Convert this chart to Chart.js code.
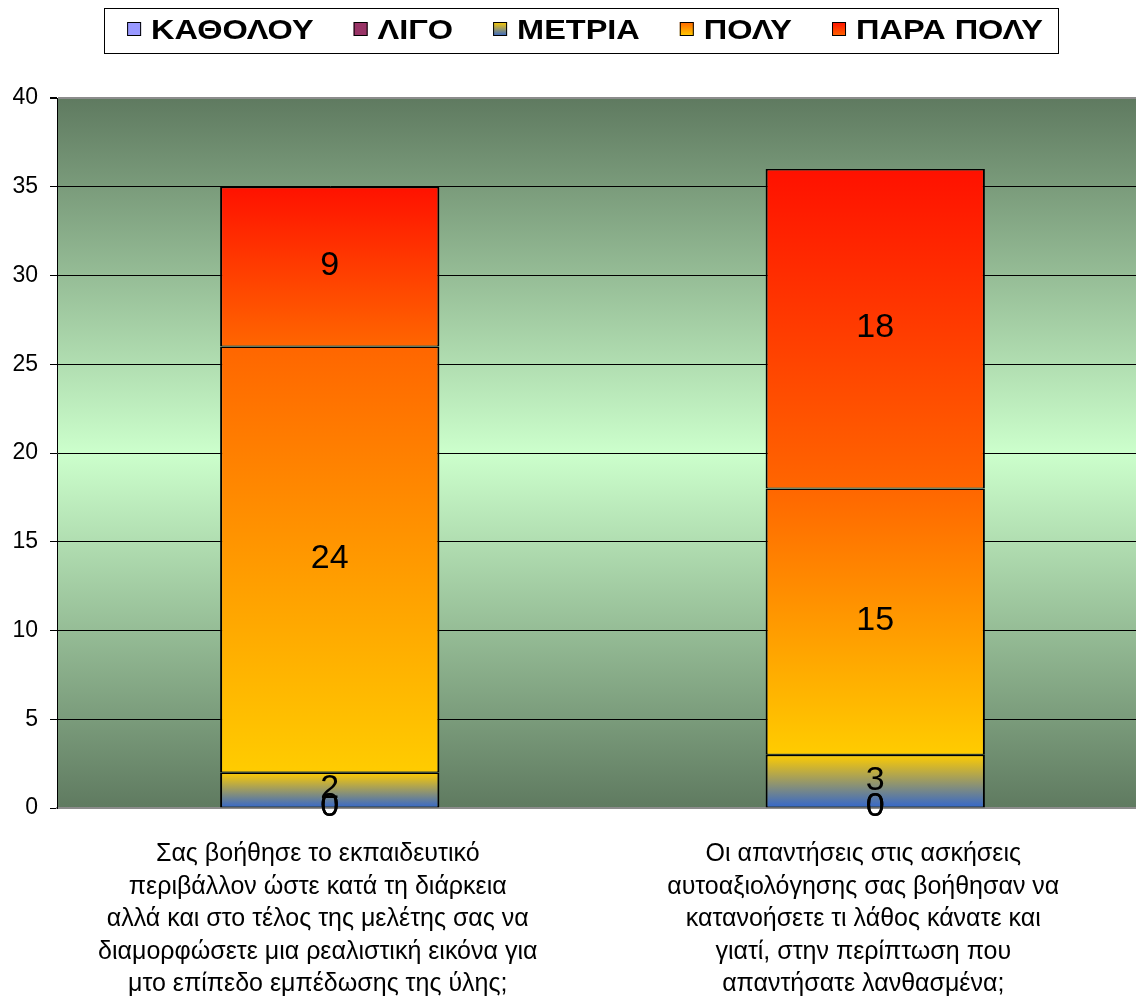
<!DOCTYPE html>
<html>
<head>
<meta charset="utf-8">
<script src="https://cdn.jsdelivr.net/npm/chart.js@4/dist/chart.umd.min.js"></script>
<style>
  html, body { margin: 0; padding: 0; background: #ffffff; overflow: hidden; }
  #wrap { width: 1148px; height: 1001px; position: relative; }
</style>
</head>
<body>
<div id="wrap"><canvas id="chart"></canvas></div>
<script>
// Question texts, one array of wrapped lines per bar
const categories = [
  ['Σας βοήθησε το εκπαιδευτικό', 'περιβάλλον ώστε κατά τη διάρκεια', 'αλλά και στο τέλος της μελέτης σας να', 'διαμορφώσετε μια ρεαλιστική εικόνα για', 'μτο επίπεδο εμπέδωσης της ύλης;'],
  ['Οι απαντήσεις στις ασκήσεις', 'αυτοαξιολόγησης σας βοήθησαν να', 'κατανοήσετε τι λάθος κάνατε και', 'γιατί, στην περίπτωση που', 'απαντήσατε λανθασμένα;']
];

const seriesNames = ['ΚΑΘΟΛΟΥ', 'ΛΙΓΟ', 'ΜΕΤΡΙΑ', 'ΠΟΛΥ', 'ΠΑΡΑ ΠΟΛΥ'];
const katholou = [0, 0];
const ligo = [0, 0];
const metria = [2, 3];
const poly = [24, 15];
const paraPoly = [9, 18];

const yMin = 0, yMax = 40, yStep = 5;

// bottom colour, top colour of each segment's vertical gradient
const seriesFills = [
  ['#9999ff', '#9999ff'],
  ['#993366', '#993366'],
  ['#3366cc', '#ffcc00'],
  ['#ffcc00', '#ff6600'],
  ['#ff6600', '#ff1100']
];

const seriesData = [katholou, ligo, metria, poly, paraPoly];

function segmentFill(ctx) {
  const chart = ctx.chart;
  const stops = seriesFills[ctx.datasetIndex];
  if (ctx.type !== 'data' || !chart.chartArea || !chart.scales.y) return stops[1];
  const i = ctx.dataIndex;
  let start = 0;
  for (let d = 0; d < ctx.datasetIndex; d++) start += chart.data.datasets[d].data[i];
  const end = start + chart.data.datasets[ctx.datasetIndex].data[i];
  const y0 = chart.scales.y.getPixelForValue(start);
  const y1 = chart.scales.y.getPixelForValue(end);
  if (Math.abs(y0 - y1) < 1) return stops[1];
  const g = chart.ctx.createLinearGradient(0, y0, 0, y1);
  g.addColorStop(0, stops[0]);
  g.addColorStop(1, stops[1]);
  return g;
}

// green plot-area wash: dark at the edges, pale mint in the middle
const plotBackground = {
  id: 'plotBackground',
  beforeDraw(chart) {
    const { ctx, chartArea: a } = chart;
    const g = ctx.createLinearGradient(0, a.top, 0, a.bottom);
    g.addColorStop(0, '#5f7a60');
    g.addColorStop(0.5, '#ccffcc');
    g.addColorStop(1, '#5f7a60');
    ctx.save();
    ctx.fillStyle = g;
    ctx.fillRect(a.left, a.top, a.right - a.left, a.bottom - a.top);
    ctx.restore();
  }
};

// value written in the middle of each stacked segment
const segmentValues = {
  id: 'segmentValues',
  afterDatasetsDraw(chart) {
    const ctx = chart.ctx;
    ctx.save();
    ctx.font = '34px "Liberation Sans", Arial, sans-serif';
    ctx.fillStyle = '#000000';
    ctx.textAlign = 'center';
    ctx.textBaseline = 'middle';
    chart.data.datasets.forEach((ds, di) => {
      chart.getDatasetMeta(di).data.forEach((bar, i) => {
        const p = bar.getProps(['x', 'y', 'base'], true);
        ctx.fillText(String(ds.data[i]), p.x, (p.y + p.base) / 2 - 1);
      });
    });
    ctx.restore();
  }
};

// framed legend row across the top
const boxedLegend = {
  id: 'boxedLegend',
  afterDraw(chart) {
    const ctx = chart.ctx;
    const stretch = 1.16, sw = 14, gapIn = 10, gapOut = 40;
    const cy = 30, centerX = 585;
    ctx.save();
    ctx.font = 'bold 28px "Liberation Sans", Arial, sans-serif';
    const widths = seriesNames.map(n => ctx.measureText(n).width * stretch);
    let total = 0;
    widths.forEach((w, i) => { total += sw + gapIn + w + (i < widths.length - 1 ? gapOut : 0); });
    let x = centerX - total / 2;
    ctx.strokeStyle = '#000000';
    ctx.lineWidth = 1;
    ctx.strokeRect(Math.round(x - 23) + 0.5, 8.5, Math.round(total + 38), 45);
    seriesNames.forEach((name, i) => {
      const top = cy - 8, h = 14;
      const g = ctx.createLinearGradient(0, top + h, 0, top);
      g.addColorStop(0, seriesFills[i][0]);
      g.addColorStop(1, seriesFills[i][1]);
      ctx.fillStyle = g;
      ctx.fillRect(x, top, sw, h);
      ctx.strokeStyle = '#000000';
      ctx.strokeRect(x + 0.5, top + 0.5, sw - 1, h - 1);
      x += sw + gapIn;
      ctx.save();
      ctx.translate(x, cy);
      ctx.scale(stretch, 1);
      ctx.fillStyle = '#000000';
      ctx.textAlign = 'left';
      ctx.textBaseline = 'middle';
      ctx.fillText(name, 0, 1);
      ctx.restore();
      x += widths[i] + gapOut;
    });
    ctx.restore();
  }
};

new Chart(document.getElementById('chart'), {
  type: 'bar',
  data: {
    labels: categories,
    datasets: seriesNames.map((name, i) => ({
      label: name,
      data: seriesData[i],
      backgroundColor: segmentFill,
      borderColor: '#000000',
      borderWidth: { left: 2, right: 2, top: 1.5, bottom: 1 },
      borderSkipped: false,
      categoryPercentage: 1,
      barPercentage: 0.402
    }))
  },
  options: {
    responsive: true,
    maintainAspectRatio: false,
    animation: false,
    layout: { padding: { top: 98, left: 0, right: 0, bottom: 0 } },
    plugins: {
      legend: { display: false },
      tooltip: { enabled: false }
    },
    scales: {
      x: {
        stacked: true,
        afterFit(scale) { scale.height = 193; },
        grid: { display: false, drawTicks: false },
        border: { display: true, color: '#8c8c8c', width: 2 },
        ticks: {
          color: '#000000',
          font: { family: '"Liberation Sans", Arial, sans-serif', size: 25, lineHeight: 1.3 },
          padding: 30,
          labelOffset: -12,
          maxRotation: 0,
          autoSkip: false
        }
      },
      y: {
        stacked: true,
        min: yMin,
        max: yMax,
        afterFit(scale) { scale.width = 57; },
        ticks: {
          stepSize: yStep,
          color: '#000000',
          padding: 12,
          font: { family: '"Liberation Sans", Arial, sans-serif', size: 23 }
        },
        grid: {
          color: c => (c.tick && (c.tick.value === yMax || c.tick.value === yMin)) ? '#8c8c8c' : '#000000',
          lineWidth: c => (c.tick && c.tick.value === yMax) ? 2 : 1,
          tickColor: '#000000',
          tickLength: 7
        },
        border: { display: true, color: '#000000', width: 1 }
      }
    }
  },
  plugins: [plotBackground, segmentValues, boxedLegend]
});
</script>
</body>
</html>
